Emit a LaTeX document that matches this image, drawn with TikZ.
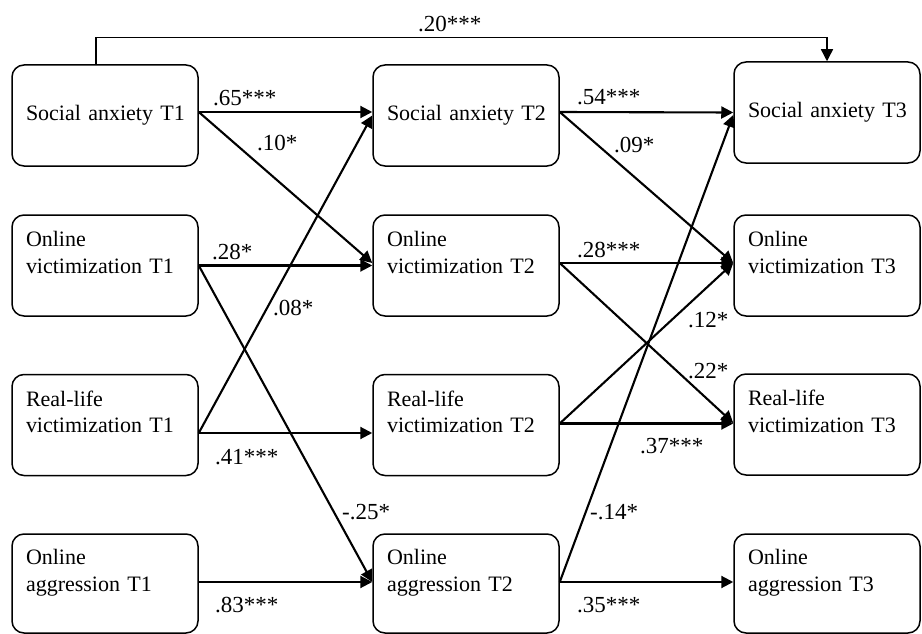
\documentclass[tikz,border=0pt]{standalone}
\usepackage{fontspec}
\setmainfont{Liberation Serif}
\usetikzlibrary{arrows.meta}
\begin{document}
\begin{tikzpicture}[x=1pt,y=-1pt,
  box/.style={draw,line width=1.5pt,rounded corners=12pt,minimum width=186pt,minimum height=101pt,
    text width=158pt,inner xsep=14pt,inner ysep=0pt,align=left,font=\fontsize{22}{26.4}\selectfont},
  arr/.style={line width=2.1pt,-{Triangle[length=12pt,width=12pt]}},
  lab/.style={anchor=base west,inner sep=0pt,font=\fontsize{23}{27}\selectfont}]
\useasboundingbox (0,0) rectangle (922,634);
% column 1
\node[box] (sa1) at (105,115.5) {\mbox{Social anxiety T1}};
\node[box] (ov1) at (105,265.5) {Online\\\mbox{victimization T1}\\\mbox{}};
\node[box] (rv1) at (105,425) {Real-life\\\mbox{victimization T1}\\\mbox{}};
\node[box,minimum height=99pt] (oa1) at (105,583.5) {Online\\\mbox{aggression T1}\\\mbox{}};
% column 2
\node[box] (sa2) at (466,115.5) {\mbox{Social anxiety T2}};
\node[box] (ov2) at (466,265.5) {Online\\\mbox{victimization T2}\\\mbox{}};
\node[box] (rv2) at (466,425) {Real-life\\\mbox{victimization T2}\\\mbox{}};
\node[box,minimum height=99pt] (oa2) at (466,583.5) {Online\\\mbox{aggression T2}\\\mbox{}};
% column 3
\node[box] (sa3) at (827,112.5) {\mbox{Social anxiety T3}};
\node[box] (ov3) at (827,265.5) {Online\\\mbox{victimization T3}\\\mbox{}};
\node[box] (rv3) at (827,424.5) {Real-life\\\mbox{victimization T3}\\\mbox{}};
\node[box,minimum height=99pt] (oa3) at (827,583.5) {Online\\\mbox{aggression T3}\\\mbox{}};
% T1 -> T2
\draw[arr] ([yshift=3.5pt]sa1.east) -- ([yshift=3.5pt]sa2.west);
\draw[arr] ([yshift=3.5pt]sa1.east) -- ([yshift=2.5pt]ov2.west);
\draw[arr] (ov1.east) -- (ov2.west);
\draw[arr] (ov1.east) -- ([yshift=1.5pt]oa2.west);
\draw[arr] ([yshift=-8pt]rv1.east) -- (sa2.west);
\draw[arr] ([yshift=-8pt]rv1.east) -- ([yshift=-8pt]rv2.west);
\draw[arr] ([yshift=1.5pt]oa1.east) -- ([yshift=1.5pt]oa2.west);
% T2 -> T3
\draw[arr] ([yshift=3.5pt]sa2.east) -- (sa3.west);
\draw[arr] ([yshift=3.5pt]sa2.east) -- ([yshift=2.5pt]ov3.west);
\draw[arr] ([yshift=2.5pt]ov2.east) -- ([yshift=2.5pt]ov3.west);
\draw[arr] ([yshift=2.5pt]ov2.east) -- ([yshift=1.5pt]rv3.west);
\draw[arr] ([yshift=1.5pt]rv2.east) -- ([yshift=2.5pt]ov3.west);
\draw[arr] ([yshift=1.5pt]rv2.east) -- ([yshift=1pt]rv3.west);
\draw[arr] ([yshift=1.5pt]oa2.east) -- ([yshift=-2.5pt]sa3.west);
\draw[arr] ([yshift=1.5pt]oa2.east) -- ([yshift=1.5pt]oa3.west);
% T1 -> T3
\draw[line width=1.4pt,-{Triangle[length=12pt,width=12pt]}] ([xshift=-9pt]sa1.north) -- ++(0,-27) -| (sa3.north);
% labels
\node[lab] (l1) at (418,32) {.20***};
\node[lab] (l2) at (213,106) {.65***};
\node[lab] (l3) at (257,150) {.10*};
\node[lab] (l4) at (212,259) {.28*};
\node[lab] (l5) at (273,315) {.08*};
\node[lab] (l6) at (215,464) {.41***};
\node[lab] (l7) at (342,519) {-.25*};
\node[lab] (l8) at (215,612) {.83***};
\node[lab] (l9) at (577,105) {.54***};
\node[lab] (l10) at (614,152) {.09*};
\node[lab] (l11) at (577,257) {.28***};
\node[lab] (l12) at (688,327) {.12*};
\node[lab] (l13) at (688,378) {.22*};
\node[lab] (l14) at (640,453) {.37***};
\node[lab] (l15) at (590,519) {-.14*};
\node[lab] (l16) at (577,612) {.35***};
\end{tikzpicture}
\end{document}
